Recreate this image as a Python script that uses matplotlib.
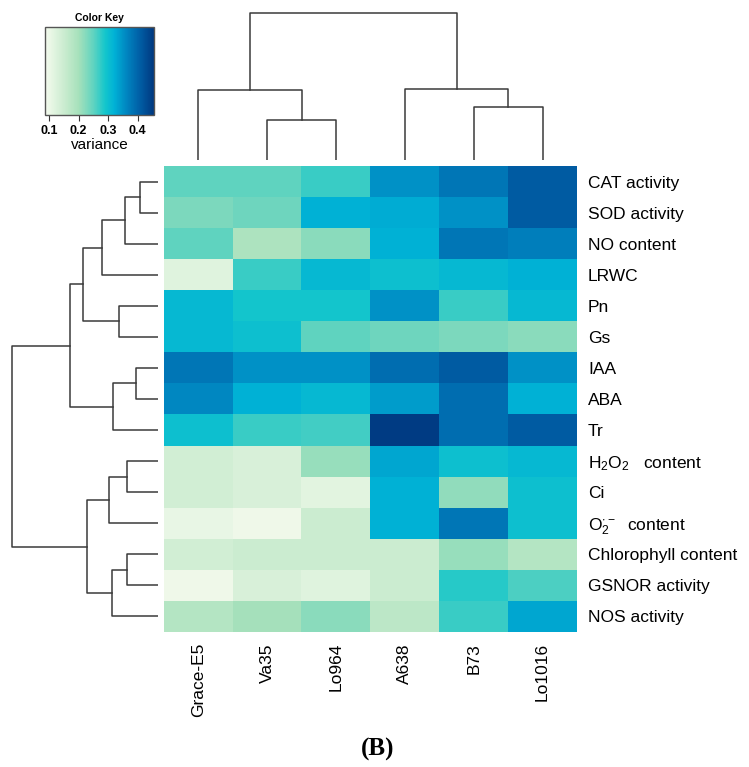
import numpy as np
import matplotlib
matplotlib.use("Agg")
import matplotlib.pyplot as plt
from matplotlib.colors import LinearSegmentedColormap, Normalize
from matplotlib.cm import ScalarMappable

plt.rcParams['font.family'] = ['Liberation Sans', 'DejaVu Sans']
plt.rcParams['mathtext.fontset'] = 'custom'
plt.rcParams['mathtext.rm'] = 'Liberation Sans'

# data
cultivars = ['Grace-E5', 'Va35', 'Lo964', 'A638', 'B73', 'Lo1016']
traits = ['CAT activity', 'SOD activity', 'NO content', 'LRWC', 'Pn', 'Gs',
          'IAA', 'ABA', 'Tr', r'$\mathregular{H_2O_2}$   content', 'Ci',
          r'$\mathregular{O_2^{\cdot -}}$  content', 'Chlorophyll content',
          'GSNOR activity', 'NOS activity']

variance = np.array([
    [0.25, 0.25, 0.27, 0.35, 0.38, 0.41],
    [0.23, 0.24, 0.32, 0.325, 0.35, 0.41],
    [0.25, 0.19, 0.22, 0.32, 0.38, 0.37],
    [0.12, 0.27, 0.31, 0.30, 0.31, 0.32],
    [0.31, 0.29, 0.29, 0.35, 0.27, 0.31],
    [0.31, 0.30, 0.25, 0.24, 0.23, 0.22],
    [0.38, 0.35, 0.35, 0.39, 0.41, 0.35],
    [0.36, 0.32, 0.31, 0.34, 0.39, 0.32],
    [0.30, 0.27, 0.265, 0.45, 0.39, 0.41],
    [0.14, 0.13, 0.21, 0.33, 0.30, 0.31],
    [0.14, 0.13, 0.115, 0.32, 0.215, 0.30],
    [0.105, 0.095, 0.15, 0.32, 0.38, 0.30],
    [0.14, 0.15, 0.15, 0.15, 0.21, 0.18],
    [0.095, 0.13, 0.12, 0.15, 0.28, 0.26],
    [0.18, 0.20, 0.22, 0.17, 0.27, 0.33],
])

# dendrogram merges: (child a, child b, height); new nodes numbered after leaves
row_merges = [(0, 1, 18), (15, 2, 33), (16, 3, 56), (4, 5, 39), (17, 18, 75),
              (6, 7, 22), (20, 8, 45), (19, 21, 88), (9, 10, 31), (23, 11, 49),
              (12, 13, 31), (25, 14, 46), (24, 26, 71), (22, 27, 146)]
col_merges = [(1, 2, 40), (0, 6, 70), (4, 5, 53), (3, 8, 71), (7, 9, 147)]

vmin, vmax = 0.086, 0.455
stops = [(0.086, '#f5fbee'), (0.15, '#cbecd0'), (0.20, '#a6e1bb'),
         (0.25, '#5fd3c0'), (0.29, '#14c6cc'), (0.32, '#00b2d6'),
         (0.36, '#0088c2'), (0.40, '#0064aa'), (0.455, '#003880')]
cmap = LinearSegmentedColormap.from_list(
    'key', [((v - vmin) / (vmax - vmin), c) for v, c in stops])
norm = Normalize(vmin, vmax)

W, H = 749, 767
fig = plt.figure(figsize=(W / 100, H / 100), dpi=100)


def px_axes(x0, y0, x1, y1):
    return fig.add_axes([x0 / W, 1 - y1 / H, (x1 - x0) / W, (y1 - y0) / H])


def draw_dendro(ax, merges, n, vertical):
    pos = {i: i + 0.5 for i in range(n)}
    hgt = {i: 0.0 for i in range(n)}
    for k, (a, b, h) in enumerate(merges):
        xs = [pos[a], pos[a], pos[b], pos[b]]
        ys = [hgt[a], h, h, hgt[b]]
        if vertical:
            ax.plot(xs, ys, color='#3a3a3a', lw=1.1)
        else:
            ax.plot(ys, xs, color='#3a3a3a', lw=1.1)
        pos[n + k] = (pos[a] + pos[b]) / 2
        hgt[n + k] = h
    ax.axis('off')


# heatmap
hm_x0, hm_y0, hm_x1, hm_y1 = 164, 166, 577, 632
ax = px_axes(hm_x0, hm_y0, hm_x1, hm_y1)
ax.imshow(variance, cmap=cmap, norm=norm, aspect='auto',
          extent=(0, len(cultivars), len(traits), 0), interpolation='nearest')
ax.set_xticks(np.arange(len(cultivars)) + 0.5)
ax.set_xticklabels(cultivars, rotation=90, fontsize=12.5)
ax.set_yticks(np.arange(len(traits)) + 0.5)
ax.set_yticklabels(traits, fontsize=12.5)
ax.yaxis.tick_right()
ax.tick_params(length=0, pad=8)
for s in ax.spines.values():
    s.set_visible(False)

# top dendrogram
axt = px_axes(hm_x0, 10, hm_x1, 160)
draw_dendro(axt, col_merges, len(cultivars), True)
axt.set_xlim(0, len(cultivars))
axt.set_ylim(0, 150)

# left dendrogram
axl = px_axes(8, hm_y0, 158, hm_y1)
draw_dendro(axl, row_merges, len(traits), False)
axl.set_ylim(len(traits), 0)
axl.set_xlim(150, 0)

# color key
kax = px_axes(45, 27, 154, 115)
cb = fig.colorbar(ScalarMappable(norm=norm, cmap=cmap), cax=kax,
                  orientation='horizontal', ticks=[0.1, 0.2, 0.3, 0.4])
cb.outline.set_edgecolor('#555555')
cb.outline.set_linewidth(1)
kax.tick_params(labelsize=9, length=4, pad=3, color='#333333')
for t in kax.get_xticklabels():
    t.set_fontweight('bold')
kax.set_xlabel('variance', fontsize=11, labelpad=1)
kax.set_title('Color Key', fontsize=7.5, fontweight='bold', pad=4)

fig.text(378 / W, 1 - 749 / H, '(B)', ha='center', va='center',
         fontsize=18, fontweight='bold', family='Liberation Serif')

fig.savefig('out.png', dpi=100)
